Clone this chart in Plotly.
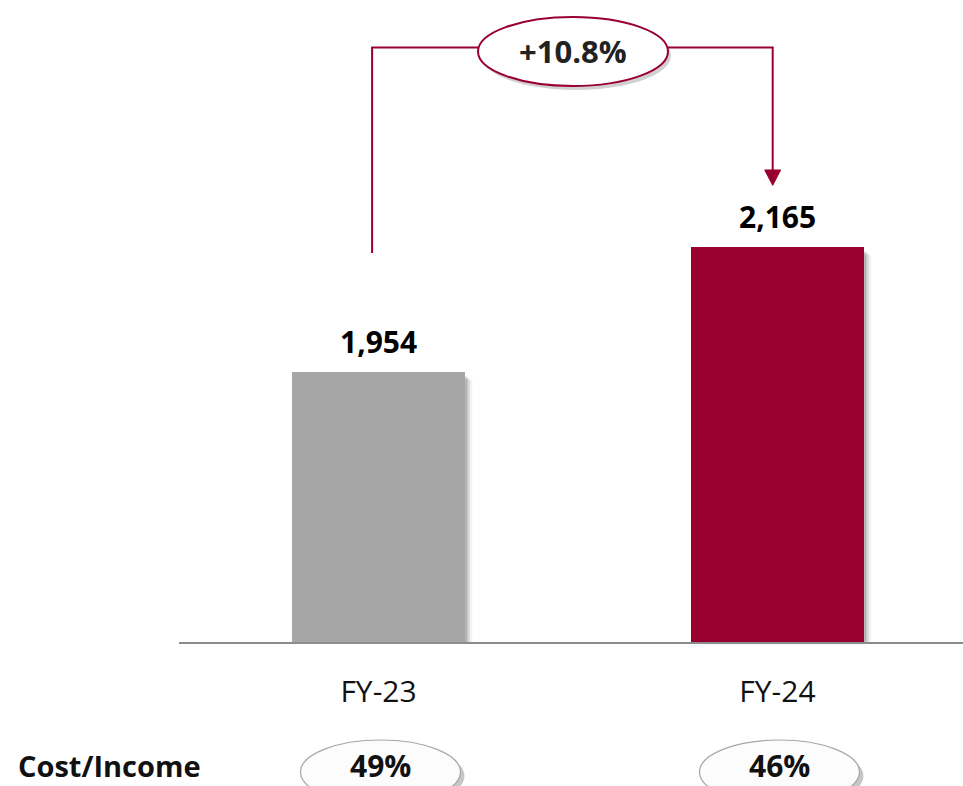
import plotly.graph_objects as go

# ---- data ----
categories = ["FY-23", "FY-24"]
values = [1954, 2165]
value_labels = ["1,954", "2,165"]
growth_label = "+10.8%"
ratio_title = "Cost/Income"
ratio_labels = ["49%", "46%"]
bar_colors = ["#A6A6A6", "#99002F"]

# ---- layout constants ----
W, H = 963, 786
XR = [-0.5, 1.465]
YR = [1498, 2582]
XDOM = [179 / W, 1.0]
YDOM = [144 / H, 1.0]
BAR_W = 0.434
RED = "#99002F"
FONT = "Open Sans"

def px_x(v):
    return XDOM[0] + (v - XR[0]) / (XR[1] - XR[0]) * (XDOM[1] - XDOM[0])

xs = list(range(len(categories)))

fig = go.Figure()
fig.add_trace(go.Bar(
    x=xs, y=[v - YR[0] for v in values], base=YR[0], width=BAR_W,
    marker=dict(color=bar_colors, line=dict(width=0)),
    hoverinfo="skip", showlegend=False,
))

shapes = []
# soft shadows on right side of bars
for i, v in zip(xs, values):
    for k, op in enumerate([0.18, 0.10, 0.05]):
        shapes.append(dict(
            type="rect", xref="x", yref="y", layer="below",
            x0=i + BAR_W / 2, x1=i + BAR_W / 2 + 0.006 * (k + 1),
            y0=YR[0], y1=v - 8 - 3 * k,
            fillcolor=f"rgba(0,0,0,{op})", line=dict(width=0),
        ))

# growth bracket
top_y = values[0] + 548
left_x = xs[0] - 0.016
right_x = xs[1] - 0.012
left_bottom = values[1] - 10
tip_y = values[1] + 104
head_y = values[1] + 130
shapes.append(dict(
    type="path", xref="x", yref="y",
    path=f"M {left_x},{left_bottom} L {left_x},{top_y} L {right_x},{top_y} L {right_x},{head_y}",
    line=dict(color=RED, width=2),
))
shapes.append(dict(
    type="path", xref="x", yref="y",
    path=f"M {right_x-0.02},{head_y} L {right_x+0.02},{head_y} L {right_x},{tip_y} Z",
    fillcolor=RED, line=dict(color=RED, width=1),
))
# growth ellipse (shadow + ellipse)
ex0, ex1, ey0, ey1 = 478 / W, 668 / W, 1 - 86 / H, 1 - 17 / H
shapes.append(dict(type="circle", xref="paper", yref="paper",
                   x0=ex0 + 3 / W, x1=ex1 + 3 / W, y0=ey0 - 4 / H, y1=ey1 - 4 / H,
                   fillcolor="rgba(0,0,0,0.18)", line=dict(width=0)))
shapes.append(dict(type="circle", xref="paper", yref="paper",
                   x0=ex0, x1=ex1, y0=ey0, y1=ey1,
                   fillcolor="white", line=dict(color=RED, width=2)))

# ratio ellipses
for i in xs:
    cx = px_x(i + 0.005)
    hw = 80 / W
    y1 = 1 - 740 / H
    y0 = 1 - 804 / H
    shapes.append(dict(type="circle", xref="paper", yref="paper",
                       x0=cx - hw + 4 / W, x1=cx + hw + 4 / W, y0=y0 - 4 / H, y1=y1 - 4 / H,
                       fillcolor="rgba(0,0,0,0.22)", line=dict(width=0)))
    shapes.append(dict(type="circle", xref="paper", yref="paper",
                       x0=cx - hw, x1=cx + hw, y0=y0, y1=y1,
                       fillcolor="#FCFCFC", line=dict(color="#A6A6A6", width=1.2)))

annotations = []
for i, v, lab in zip(xs, values, value_labels):
    annotations.append(dict(
        x=i, y=v, xref="x", yref="y", text=f"<b>{lab}</b>", showarrow=False,
        xanchor="center", yanchor="bottom", yshift=8,
        font=dict(family=FONT, size=30, color="#000000"),
    ))
annotations.append(dict(
    x=573 / W, y=1 - 51 / H, xref="paper", yref="paper", text=f"<b>{growth_label}</b>",
    showarrow=False, xanchor="center", yanchor="middle",
    font=dict(family=FONT, size=31, color="#222222"),
))
annotations.append(dict(
    x=16 / W, y=1 - 765 / H, xref="paper", yref="paper", text=f"<b>{ratio_title}</b>",
    showarrow=False, xanchor="left", yanchor="middle",
    font=dict(family=FONT, size=29, color="#111111"),
))
for i, lab in zip(xs, ratio_labels):
    annotations.append(dict(
        x=px_x(i + 0.005), y=1 - 765 / H, xref="paper", yref="paper", text=f"<b>{lab}</b>",
        showarrow=False, xanchor="center", yanchor="middle",
        font=dict(family=FONT, size=30, color="#111111"),
    ))

fig.update_layout(
    width=W, height=H,
    margin=dict(l=0, r=0, t=0, b=0),
    paper_bgcolor="white", plot_bgcolor="white",
    xaxis=dict(domain=XDOM, range=XR, tickvals=xs, ticktext=categories,
               showgrid=False, zeroline=False, showline=True, linecolor="#8C8C8C",
               linewidth=2, ticks="", ticklabelstandoff=22,
               tickfont=dict(family=FONT, size=30, color="#111111"), fixedrange=True),
    yaxis=dict(domain=YDOM, range=YR, visible=False, fixedrange=True),
    shapes=shapes, annotations=annotations, bargap=0,
)

fig.write_html("out.html")
